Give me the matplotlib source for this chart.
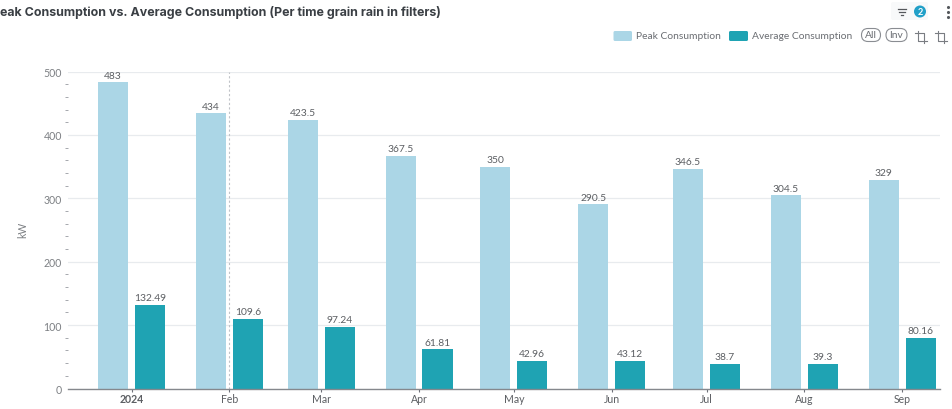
import matplotlib
matplotlib.use("Agg")
import matplotlib.pyplot as plt
import matplotlib.dates as mdates
import matplotlib.patches as patches
import numpy as np
from matplotlib.ticker import MultipleLocator, FixedLocator, FixedFormatter

plt.rcParams["font.family"] = ["Lato", "DejaVu Sans"]

# ---- data ----
months = ["2024-01-01", "2024-02-01", "2024-03-01", "2024-04-01", "2024-05-01",
          "2024-06-01", "2024-07-01", "2024-08-01", "2024-09-01"]
month_labels = ["2024", "Feb", "Mar", "Apr", "May", "Jun", "Jul", "Aug", "Sep"]
peak = [483, 434, 423.5, 367.5, 350, 290.5, 346.5, 304.5, 329]
average = [132.49, 109.6, 97.24, 61.81, 42.96, 43.12, 38.7, 39.3, 80.16]
peak_labels = ["483", "434", "423.5", "367.5", "350", "290.5", "346.5", "304.5", "329"]
average_labels = ["132.49", "109.6", "97.24", "61.81", "42.96", "43.12", "38.7", "39.3", "80.16"]

PEAK_COLOR = "#abd6e6"
AVG_COLOR = "#1fa3b3"
TEXT = "#5c5f63"

W, H = 953, 410
fig = plt.figure(figsize=(W / 100, H / 100), dpi=100, facecolor="white")

# plot area in pixels: left 68, right 940, top 72.5, bottom 389.5
ax = fig.add_axes([68 / W, 1 - 389.5 / H, (940 - 68) / W, (389.5 - 72.5) / H])

t = mdates.datestr2num(months)
bar_w = 9.5      # days
offset = 5.85    # days either side of the month tick
ax.bar(t - offset, peak, bar_w, color=PEAK_COLOR, zorder=3, label="Peak Consumption")
ax.bar(t + offset, average, bar_w, color=AVG_COLOR, zorder=3, label="Average Consumption")

for x, v, s in zip(t - offset, peak, peak_labels):
    ax.annotate(s, (x, v), xytext=(0, 2), textcoords="offset points", ha="center", va="bottom",
                fontsize=7.4, color=TEXT, zorder=5, annotation_clip=False)
for x, v, s in zip(t + offset, average, average_labels):
    ax.annotate(s, (x, v), xytext=(0, 2), textcoords="offset points", ha="center", va="bottom",
                fontsize=7.4, color=TEXT, zorder=5, annotation_clip=False)

ax.set_xlim(t[0] - 20.1, t[0] + 255.9)
ax.set_ylim(0, 500)

ax.xaxis.set_major_locator(FixedLocator(t))
ax.xaxis.set_major_formatter(FixedFormatter(month_labels))
ax.yaxis.set_major_locator(MultipleLocator(100))
ax.yaxis.set_minor_locator(MultipleLocator(20))

ax.tick_params(axis="x", length=2.5, width=0.8, color="#6e7079", labelsize=7.6,
               labelcolor=TEXT, pad=1)
ax.tick_params(axis="y", which="major", length=0, labelsize=7.6, labelcolor="#7d8084", pad=4.5)
ax.tick_params(axis="y", which="minor", length=2, width=0.7, color="#a5a8ad")
ax.get_xticklabels()[0].set_fontweight("bold")

ax.grid(axis="y", which="major", color="#e8ebee", lw=0.9, zorder=0)
ax.set_axisbelow(True)
for name in ["top", "right", "left"]:
    ax.spines[name].set_visible(False)
ax.spines["bottom"].set_color("#85888d")
ax.spines["bottom"].set_linewidth(1.0)
ax.spines["bottom"].set_zorder(6)

# hover line on February
ax.axvline(t[1], color="#c0c3c8", lw=0.8, ls=(0, (2, 2)), zorder=4)

# toolbar, title and legend are placed on a pixel-coordinate overlay
ui = fig.add_axes([0, 0, 1, 1], facecolor="none")
ui.set_xlim(0, W)
ui.set_ylim(H, 0)
ui.axis("off")

ui.text(23, 230, "kW", rotation=90, ha="center", va="center", fontsize=7.6, color="#7d8084")
ui.text(0.5, 12.5, "eak Consumption vs. Average Consumption (Per time grain rain in filters)",
        ha="left", va="center", fontsize=8.95, fontweight="bold", color="#3a3f44",
        family=["Inter", "DejaVu Sans"])

# legend
ui.add_patch(patches.FancyBboxPatch((613.5, 32), 18.5, 10, boxstyle="round,pad=0,rounding_size=1.5",
                                    fc=PEAK_COLOR, ec="none"))
ui.text(636.5, 36.5, "Peak Consumption", ha="left", va="center", fontsize=7.4, color="#6a6d72")
ui.add_patch(patches.FancyBboxPatch((729, 32), 19, 10, boxstyle="round,pad=0,rounding_size=1.5",
                                    fc=AVG_COLOR, ec="none"))
ui.text(752.5, 36.5, "Average Consumption", ha="left", va="center", fontsize=7.4, color="#6a6d72")

# All / Inv pills
for cx, w_pill, s in [(871, 19, "All"), (896.5, 21, "Inv")]:
    ui.add_patch(patches.FancyBboxPatch((cx - w_pill / 2, 29.5), w_pill, 13,
                                        boxstyle="round,pad=0,rounding_size=6.5",
                                        fc="white", ec="#8a8d92", lw=0.8))
    ui.text(cx, 36, s, ha="center", va="center", fontsize=7.4, color="#6a6d72")

# box select icons
for x0 in [921, 941]:
    ui.plot([x0 - 6, x0 + 3, x0 + 3], [34, 34, 44], color="#7a7d82", lw=0.8)
    ui.plot([x0 - 3, x0 - 3, x0 + 6], [32, 42, 42], color="#7a7d82", lw=0.8)

# filter button with count badge
ui.add_patch(patches.FancyBboxPatch((891, 3), 37, 18, boxstyle="round,pad=0,rounding_size=2",
                                    fc="#f8f9fa", ec="none"))
for y0, half in [(9.5, 4), (12.5, 2.6), (15.5, 1)]:
    ui.plot([902 - half, 902 + half], [y0, y0], color="#55585c", lw=0.9)
ui.add_patch(patches.Circle((920, 12.5), 6, fc="#22a0c8", ec="none"))
ui.text(920, 12.5, "2", ha="center", va="center", fontsize=6.6, color="white", fontweight="bold")

# kebab menu
ui.scatter([948] * 3, [8, 13, 18], s=5, color="#55585c", linewidths=0)

fig.savefig("out.png", dpi=100)
